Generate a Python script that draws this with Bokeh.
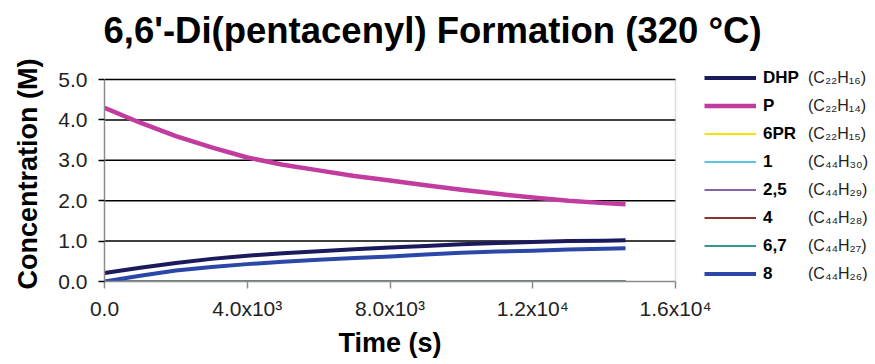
from bokeh.plotting import figure
from bokeh.models import (FixedTicker, Legend, LegendItem, ColumnDataSource,
                          Title, PolyAnnotation)
from bokeh.embed import file_html
from bokeh.resources import INLINE

# ---------------- data ----------------
time_s = [0, 1000, 2000, 3000, 4000, 5000, 6000, 7000, 8000, 9000,
          10000, 11000, 12000, 13000, 14000, 14600]
dhp = [0.21, 0.34, 0.46, 0.56, 0.64, 0.70, 0.75, 0.80, 0.84, 0.88,
       0.92, 0.95, 0.98, 1.00, 1.01, 1.02]
pent = [4.30, 3.93, 3.60, 3.32, 3.07, 2.89, 2.75, 2.61, 2.50, 2.38,
        2.27, 2.17, 2.08, 2.00, 1.94, 1.91]
pr6 = [0.0] * 16
c1 = [0.0] * 16
c25 = [0.0] * 16
c4 = [0.0] * 16
c67 = [0.0] * 16
c8 = [0.00, 0.14, 0.27, 0.36, 0.43, 0.49, 0.54, 0.58, 0.62, 0.67,
      0.71, 0.74, 0.76, 0.79, 0.81, 0.82]

series_names = ["DHP", "P", "6PR", "1", "2,5", "4", "6,7", "8"]
series_formulas = ["(C\u2082\u2082H\u2081\u2086)", "(C\u2082\u2082H\u2081\u2084)",
                   "(C\u2082\u2082H\u2081\u2085)", "(C\u2084\u2084H\u2083\u2080)",
                   "(C\u2084\u2084H\u2082\u2089)", "(C\u2084\u2084H\u2082\u2088)",
                   "(C\u2084\u2084H\u2082\u2087)", "(C\u2084\u2084H\u2082\u2086)"]
series_values = [dhp, pent, pr6, c1, c25, c4, c67, c8]
series_colors = ["#1b1a5c", "#c23b9f", "#f2e500", "#5cc6e2",
                 "#8a62a8", "#8b3333", "#33978c", "#2b47a8"]
series_widths = [4, 4.5, 2, 2, 2, 2, 2, 4]

x_ticks = [0, 4000, 8000, 12000, 16000]
x_tick_labels = ["0.0", "4.0x10\u00b3", "8.0x10\u00b3", "1.2x10\u2074", "1.6x10\u2074"]
y_ticks = [0, 1, 2, 3, 4, 5]
y_tick_labels = ["0.0", "1.0", "2.0", "3.0", "4.0", "5.0"]
title_text = "6,6'-Di(pentacenyl) Formation (320 \u00b0C)"
x_label = "Time (s)"
y_label = "Concentration (M)"

FONT = "Liberation Sans"

# plot box: 571 x 202 px for 0..16000 s and 0..5 M; the frame is extended
# to the right (room for the legend) and slightly upward.
PX_X = 571 / (x_ticks[-1] - x_ticks[0])
PX_Y = 202 / (y_ticks[-1] - y_ticks[0])
FRAME_W = 770
FRAME_H = 215
x_end = x_ticks[0] + FRAME_W / PX_X
y_end = y_ticks[0] + FRAME_H / PX_Y

p = figure(frame_width=FRAME_W, frame_height=FRAME_H,
           min_border_left=104, min_border_right=0, min_border_top=66,
           min_border_bottom=83,
           x_range=(x_ticks[0], x_end), y_range=(y_ticks[0], y_end),
           output_backend="svg", toolbar_location=None)

spacer = Title(text=" ", text_font=FONT, text_font_size="12.4px", standoff=0)
main_title = Title(text=title_text, text_font=FONT, text_font_size="36.5px",
                   text_font_style="bold", text_color="black", align="left",
                   offset=-1, standoff=0, vertical_align="bottom")
p.add_layout(spacer, "above")
p.add_layout(main_title, "above")

p.outline_line_color = None
p.background_fill_color = "white"
p.border_fill_color = "white"
p.grid.grid_line_color = None

p.xaxis.ticker = FixedTicker(ticks=x_ticks)
p.xaxis.major_label_overrides = {t: l for t, l in zip(x_ticks, x_tick_labels)}
p.xaxis.bounds = (x_ticks[0], x_ticks[-1])
p.yaxis.ticker = FixedTicker(ticks=y_ticks)
p.yaxis.major_label_overrides = {t: l for t, l in zip(y_ticks, y_tick_labels)}
p.yaxis.bounds = (y_ticks[0], y_ticks[-1])

for ax in (p.xaxis, p.yaxis):
    ax.axis_line_color = "#8c8c8c"
    ax.axis_line_width = 1.5
    ax.minor_tick_line_color = None
    ax.major_tick_in = 0
    ax.major_label_text_font = FONT
    ax.major_label_text_font_size = "21px"
    ax.major_label_text_color = "#222222"
    ax.axis_label_text_font = FONT
    ax.axis_label_text_font_style = "bold"
    ax.axis_label_text_font_size = "27px"
    ax.axis_label_text_color = "black"

p.xaxis.major_tick_out = 7
p.xaxis.major_tick_line_color = "#8c8c8c"
p.xaxis.major_tick_line_width = 1.5
p.xaxis.major_label_standoff = 8

p.yaxis.major_tick_out = 6
p.yaxis.major_tick_line_color = "black"
p.yaxis.major_tick_line_width = 1.5
p.yaxis.major_label_standoff = 11
p.yaxis.axis_label = y_label
p.yaxis.axis_label_standoff = 12

# x-axis title, centred under the plot box (not under the extended frame)
x_title = Title(text=x_label, text_font=FONT, text_font_size="27px",
                text_font_style="bold", text_color="black", align="left",
                offset=234, standoff=6, vertical_align="bottom")
p.add_layout(x_title, "below")

# horizontal grid lines limited to the plot box
p.segment(x0=[x_ticks[0]] * (len(y_ticks) - 1), x1=[x_ticks[-1]] * (len(y_ticks) - 1),
          y0=y_ticks[1:], y1=y_ticks[1:], line_color="black", line_width=1.5,
          level="underlay")

# right edge of the plot box
p.add_layout(PolyAnnotation(xs=[x_ticks[-1], x_ticks[-1]], ys=[y_ticks[0], y_ticks[-1]],
                            line_color="#8c8c8c", line_width=1.5,
                            fill_alpha=0, level="underlay"))

renderers = []
for vals, col, w in zip(series_values, series_colors, series_widths):
    src = ColumnDataSource(dict(t=time_s, c=vals))
    r = p.line("t", "c", source=src, line_color=col, line_width=w,
               line_join="round")
    renderers.append(r)

legend_names = Legend(
    items=[LegendItem(label=n, renderers=[r]) for n, r in zip(series_names, renderers)],
    location=(600, -3), orientation="vertical",
    glyph_width=52, glyph_height=21, label_height=21, spacing=7,
    label_standoff=7, padding=0, margin=0,
    label_text_font=FONT, label_text_font_size="17px",
    label_text_font_style="bold", label_text_color="black",
    background_fill_alpha=0, border_line_color=None)
legend_forms = Legend(
    items=[LegendItem(label=f, renderers=[r]) for f, r in zip(series_formulas, renderers)],
    location=(704, -3), orientation="vertical",
    glyph_width=0, glyph_height=21, label_height=21, spacing=7,
    label_standoff=0, padding=0, margin=0,
    label_text_font=FONT, label_text_font_size="16px",
    label_text_color="#222222",
    background_fill_alpha=0, border_line_color=None)
p.add_layout(legend_names)
p.add_layout(legend_forms)

open("out.html", "w").write(file_html(p, INLINE))
